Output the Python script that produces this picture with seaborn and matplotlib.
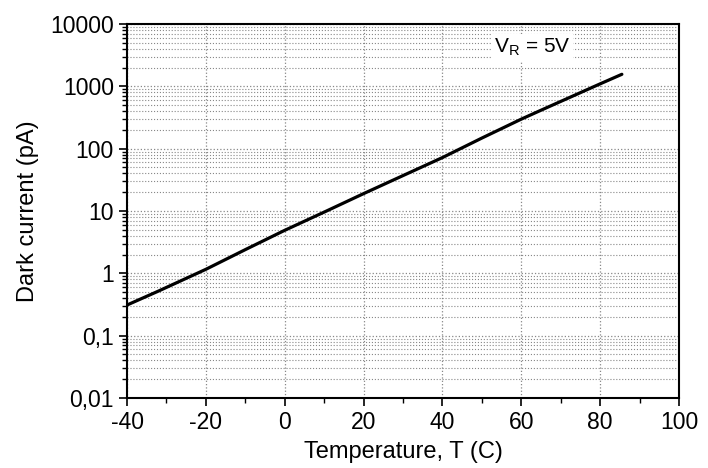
import numpy as np
import pandas as pd
import seaborn as sns
import matplotlib.pyplot as plt
from matplotlib.ticker import FixedLocator, FixedFormatter, LogLocator, NullFormatter

temperature = [-40, -32, -20, -10, 0, 10, 20, 30, 40, 50, 60, 65, 70, 80, 85.5]
dark_current = [0.31, 0.52, 1.16, 2.4, 4.9, 9.6, 19, 37, 72, 148, 298, 414, 573, 1097, 1560]

ytick_vals = [0.01, 0.1, 1, 10, 100, 1000, 10000]
ytick_labels = ["0,01", "0,1", "1", "10", "100", "1000", "10000"]
xticks = [-40, -20, 0, 20, 40, 60, 80, 100]

df = pd.DataFrame({"T": temperature, "I": dark_current})

sns.set_style("ticks")
plt.rcParams['font.family'] = ['Liberation Sans', 'DejaVu Sans']
plt.rcParams['mathtext.fontset'] = 'custom'
plt.rcParams['mathtext.rm'] = 'Liberation Sans'
plt.rcParams['axes.unicode_minus'] = False
plt.rcParams['text.color'] = 'black'
plt.rcParams['axes.labelcolor'] = 'black'

fig = plt.figure(figsize=(7.08, 4.68), dpi=100)
ax = fig.add_axes([0.1794, 0.1496, 0.7797, 0.7991])

sns.lineplot(data=df, x="T", y="I", color="black", linewidth=2.3, ax=ax)
ax.set_yscale("log")
ax.set_xlim(-40, 100)
ax.set_ylim(0.01, 10000)

ax.xaxis.set_major_locator(FixedLocator(xticks))
ax.xaxis.set_minor_locator(FixedLocator([-30, -10, 10, 30, 50, 70, 90]))
ax.yaxis.set_major_locator(FixedLocator(ytick_vals))
ax.yaxis.set_major_formatter(FixedFormatter(ytick_labels))
ax.yaxis.set_minor_locator(LogLocator(base=10, subs=np.arange(2, 10), numticks=20))
ax.yaxis.set_minor_formatter(NullFormatter())

ax.tick_params(axis="both", which="major", direction="out", length=6, width=1.2,
               labelsize=16.5, colors="black", top=False, right=False)
ax.tick_params(axis="both", which="minor", direction="out", length=3.5, width=1,
               colors="black", top=False, right=False)

ax.grid(True, which="major", axis="both", color="#888888", linestyle=":", linewidth=0.9)
ax.grid(True, which="minor", axis="y", color="#888888", linestyle=":", linewidth=0.8)
ax.grid(False, which="minor", axis="x")

for s in ax.spines.values():
    s.set_linewidth(1.5)
    s.set_color("black")

ax.set_xlabel("Temperature, T (C)", fontsize=17, labelpad=5)
ax.set_ylabel("Dark current (pA)", fontsize=17, labelpad=8)

ax.text(0.734, 0.938, r"V$_\mathregular{R}$ = 5V", transform=ax.transAxes,
        fontsize=15, ha="center", va="center",
        bbox=dict(facecolor="white", edgecolor="none", pad=2))

fig.savefig("out.png", dpi=100)
